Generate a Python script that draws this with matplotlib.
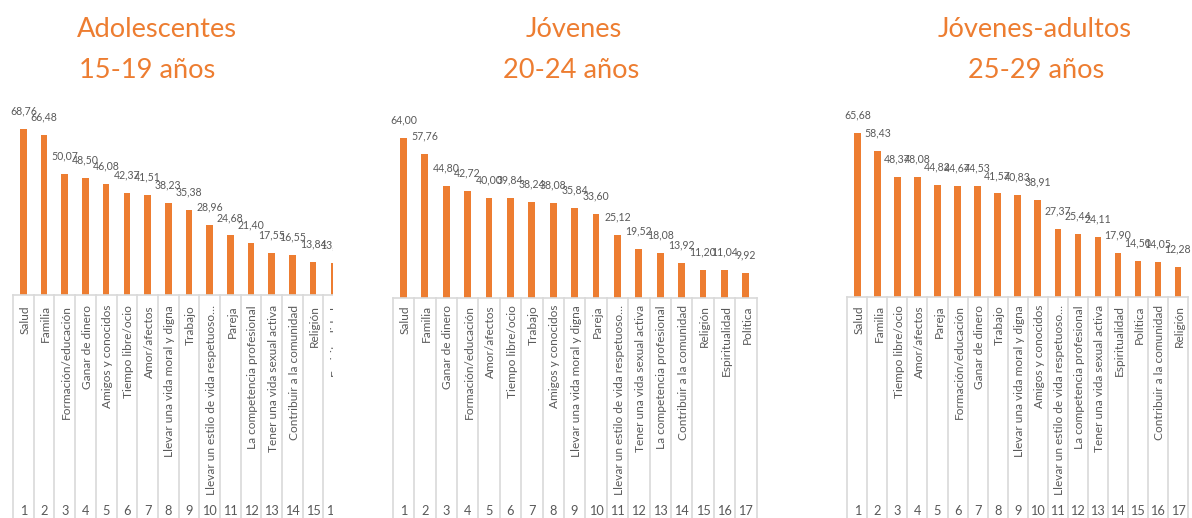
import matplotlib.pyplot as plt
from matplotlib.transforms import Bbox, TransformedBbox, blended_transform_factory

WIDTH_PX = 1192
HEIGHT_PX = 518
DPI = 100

BAR_COLOR = "#ED7D31"
TITLE_COLOR = "#ED7D31"
TEXT_COLOR = "#595959"
GRID_COLOR = "#D9D9D9"

plt.rcParams["font.family"] = ["Lato", "DejaVu Sans"]

# Adolescentes 15-19
teen_categories = [
    "Salud", "Familia", "Formación/educación", "Ganar de dinero",
    "Amigos y conocidos", "Tiempo libre/ocio", "Amor/afectos",
    "Llevar una vida moral y digna", "Trabajo",
    "Llevar un estilo de vida respetuoso…", "Pareja",
    "La competencia profesional", "Tener una vida sexual activa",
    "Contribuir a la comunidad", "Religión", "Espiritualidad",
]
teen_values = [
    68.76, 66.48, 50.07, 48.50, 46.08, 42.37, 41.51, 38.23,
    35.38, 28.96, 24.68, 21.40, 17.55, 16.55, 13.84, 13.10,
]

# Jóvenes 20-24
young_categories = [
    "Salud", "Familia", "Ganar de dinero", "Formación/educación",
    "Amor/afectos", "Tiempo libre/ocio", "Trabajo", "Amigos y conocidos",
    "Llevar una vida moral y digna", "Pareja",
    "Llevar un estilo de vida respetuoso…",
    "Tener una vida sexual activa", "La competencia profesional",
    "Contribuir a la comunidad", "Religión", "Espiritualidad", "Política",
]
young_values = [
    64.00, 57.76, 44.80, 42.72, 40.00, 39.84, 38.24, 38.08, 35.84,
    33.60, 25.12, 19.52, 18.08, 13.92, 11.20, 11.04, 9.92,
]

# Jóvenes-adultos 25-29
adult_categories = [
    "Salud", "Familia", "Tiempo libre/ocio", "Amor/afectos", "Pareja",
    "Formación/educación", "Ganar de dinero", "Trabajo",
    "Llevar una vida moral y digna", "Amigos y conocidos",
    "Llevar un estilo de vida respetuoso…",
    "La competencia profesional", "Tener una vida sexual activa",
    "Espiritualidad", "Política", "Contribuir a la comunidad", "Religión",
]
adult_values = [
    65.68, 58.43, 48.37, 48.08, 44.82, 44.67, 44.53, 41.57, 40.83,
    38.91, 27.37, 25.44, 24.11, 17.90, 14.50, 14.05, 12.28,
]


def px_x(x):
    return x / WIDTH_PX


def px_y(y):
    return 1 - y / HEIGHT_PX


def draw_panel(figure, categories, values, titles, title_x, layout):
    left, step, axis_y, px_per_unit, clip_right = layout
    count = len(categories)
    right = left + count * step
    visible_right = right if clip_right is None else min(right, clip_right)
    top_y = 100

    axis = figure.add_axes([
        px_x(left),
        px_y(axis_y),
        px_x(visible_right - left),
        (axis_y - top_y) / HEIGHT_PX,
    ])
    axis.axis("off")

    clip_edge = visible_right if clip_right is not None else visible_right + 4
    clip = TransformedBbox(
        Bbox([[px_x(left - 4), 0], [px_x(clip_edge), 1]]),
        figure.transFigure,
    )
    mixed = blended_transform_factory(axis.transData, figure.transFigure)

    positions = list(range(1, count + 1))
    axis.bar(positions, values, width=0.32, color=BAR_COLOR, zorder=2)

    for position, value in zip(positions, values):
        label = axis.annotate(
            f"{value:.2f}".replace(".", ","),
            (position, value),
            xytext=(0, 18),
            textcoords="offset pixels",
            ha="center",
            va="center",
            fontsize=7.6,
            color=TEXT_COLOR,
            annotation_clip=False,
        )
        label.set_clip_box(clip)
        label.set_clip_on(True)

    # category table under the bars
    artists = []
    artists += axis.plot(
        [0.5, count + 0.5], [px_y(axis_y), px_y(axis_y)],
        transform=mixed, color=GRID_COLOR, lw=1.2,
    )
    for boundary in range(count + 1):
        artists += axis.plot(
            [boundary + 0.5, boundary + 0.5], [px_y(axis_y), 0],
            transform=mixed, color=GRID_COLOR, lw=1.2,
        )
    for position, name in zip(positions, categories):
        artists.append(axis.text(
            position + 0.08, px_y(305), name, transform=mixed,
            rotation=90, ha="center", va="top",
            fontsize=8.6, color=TEXT_COLOR,
        ))
        artists.append(axis.text(
            position, px_y(511), str(position), transform=mixed,
            ha="center", va="center",
            fontsize=9.2, color=TEXT_COLOR,
        ))
    for artist in artists:
        artist.set_clip_box(clip)
        artist.set_clip_on(True)

    axis.set_xlim(0.5, 0.5 + (visible_right - left) / step)
    axis.set_ylim(0, (axis_y - top_y) / px_per_unit)

    for (text, center), baseline in zip(zip(titles, title_x), (37, 78)):
        figure.text(
            px_x(center), px_y(baseline), text,
            ha="center", va="baseline",
            fontsize=19.6, color=TITLE_COLOR,
        )


def main():
    figure = plt.figure(figsize=(WIDTH_PX / DPI, HEIGHT_PX / DPI), dpi=DPI)

    draw_panel(
        figure, teen_categories, teen_values,
        ("Adolescentes", "15-19 años"), (157, 147),
        (13, 20.7, 295, 2.414, 333),
    )
    draw_panel(
        figure, young_categories, young_values,
        ("Jóvenes", "20-24 años"), (574, 571),
        (392.7, 21.4, 298, 2.5, None),
    )
    draw_panel(
        figure, adult_categories, adult_values,
        ("Jóvenes-adultos", "25-29 años"), (1035, 1036),
        (847.3, 20.04, 297.3, 2.497, None),
    )

    figure.savefig("out.png", dpi=DPI)
    plt.close(figure)


if __name__ == "__main__":
    main()
